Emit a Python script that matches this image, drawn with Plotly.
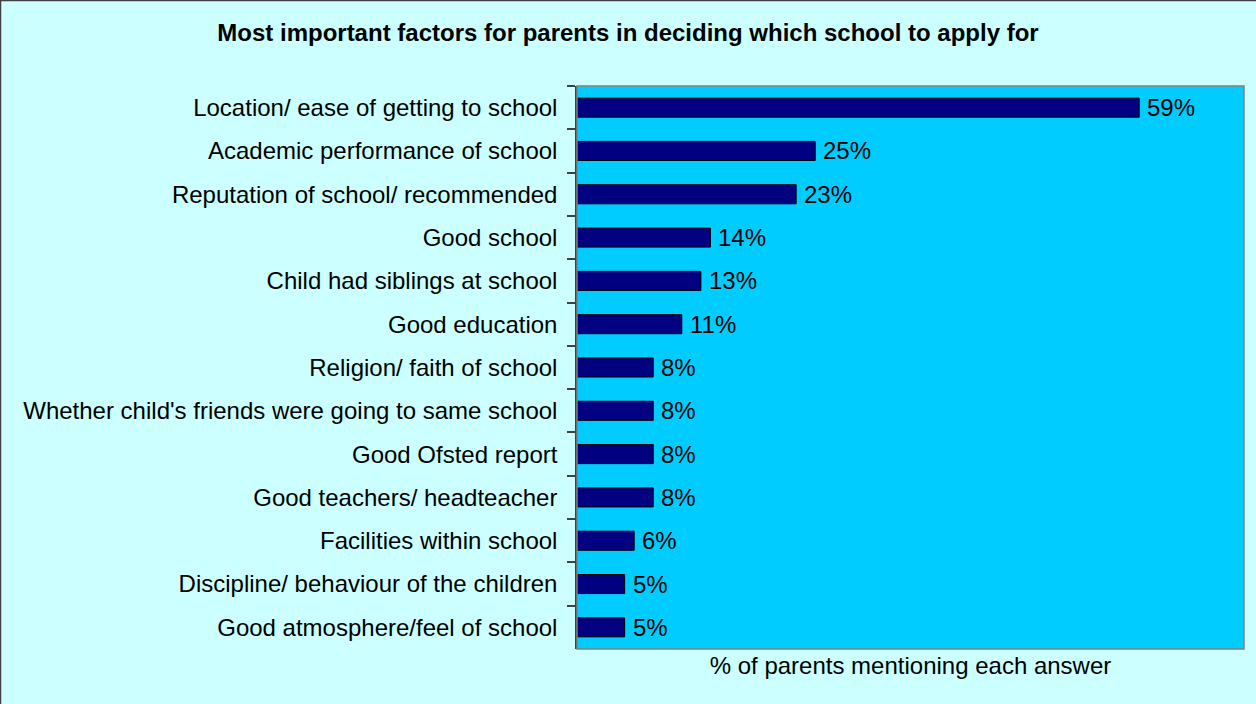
import plotly.graph_objects as go

# Survey results: share of parents mentioning each factor (%)
factors = [
    "Location/ ease of getting to school",
    "Academic performance of school",
    "Reputation of school/ recommended",
    "Good school",
    "Child had siblings at school",
    "Good education",
    "Religion/ faith of school",
    "Whether child's friends were going to same school",
    "Good Ofsted report",
    "Good teachers/ headteacher",
    "Facilities within school",
    "Discipline/ behaviour of the children",
    "Good atmosphere/feel of school",
]
percent = [59, 25, 23, 14, 13, 11, 8, 8, 8, 8, 6, 5, 5]

title_text = "Most important factors for parents in deciding which school to apply for"
x_title = "% of parents mentioning each answer"

W, H = 1256, 704
L, R, T, B = 577, 12, 86, 55
FONT = "Liberation Sans, Arial, sans-serif"

fig = go.Figure(
    go.Bar(
        x=percent,
        y=factors,
        orientation="h",
        marker=dict(color="#000080", line=dict(color="#000000", width=1)),
        hoverinfo="x+y",
    )
)

# value labels to the right of each bar
for f, v in zip(factors, percent):
    fig.add_annotation(
        x=v, y=f, xref="x", yref="y",
        text=f"{v}%", showarrow=False,
        xanchor="left", yanchor="middle", xshift=6,
        font=dict(family=FONT, size=24, color="#000000"),
    )

pw = W - L - R
ph = H - T - B

# plot-area frame
fig.add_shape(type="rect", xref="paper", yref="paper", x0=0, x1=1, y0=0, y1=1,
              line=dict(color="#808080", width=1.5), layer="above")
# outer chart border (top and left edges)
fig.add_shape(type="line", xref="paper", yref="paper",
              x0=(0.5 - L) / pw, x1=(W - L) / pw, y0=(H - B - 0.5) / ph, y1=(H - B - 0.5) / ph,
              line=dict(color="#404040", width=1.5))
fig.add_shape(type="line", xref="paper", yref="paper",
              x0=(0.5 - L) / pw, x1=(0.5 - L) / pw, y0=(H - B) / ph, y1=(-B) / ph,
              line=dict(color="#404040", width=1.5))

fig.update_layout(
    width=W, height=H,
    margin=dict(l=L, r=R, t=T, b=B, autoexpand=False),
    paper_bgcolor="#CCFFFF",
    plot_bgcolor="#00CCFF",
    bargap=0.56,
    showlegend=False,
    title=dict(text=f"<b>{title_text}</b>", x=0.5, xref="container", xanchor="center",
               y=1 - 33 / H, yref="container", yanchor="middle",
               font=dict(family=FONT, size=24, color="#000000")),
    font=dict(family=FONT, size=24, color="#000000"),
)

fig.update_xaxes(
    range=[0, 70], showticklabels=False, showgrid=False, zeroline=False,
    ticks="", showline=False,
    title=dict(text=x_title, standoff=8, font=dict(family=FONT, size=24)),
    fixedrange=True,
)
fig.update_yaxes(
    autorange="reversed", showgrid=False, zeroline=False,
    showline=True, linecolor="#404040", linewidth=1.5,
    ticks="outside", ticklen=8, tickcolor="#404040", tickwidth=1.5,
    tickson="boundaries", ticklabelstandoff=13,
    tickfont=dict(family=FONT, size=24, color="#000000"),
    fixedrange=True,
)

fig.write_html("out.html")
